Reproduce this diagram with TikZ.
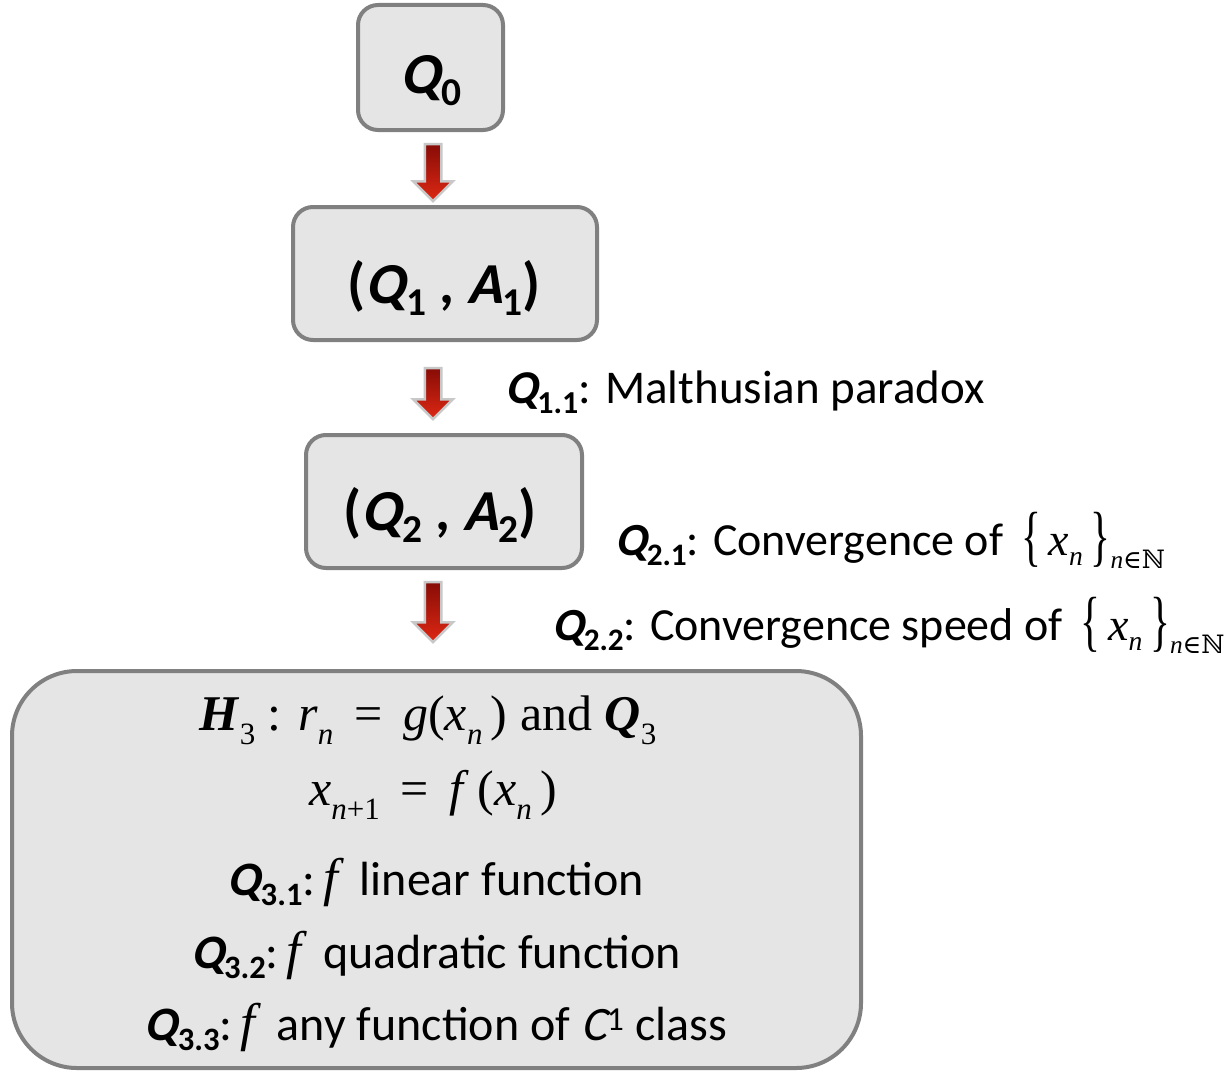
\documentclass[tikz,border=0pt]{standalone}
\usepackage{graphicx}
\usepackage{fontspec}
\setmainfont{Carlito}[ItalicFont={Carlito}, ItalicFeatures={FakeSlant=0.2}, BoldFont={Carlito Bold}, BoldItalicFont={Carlito Bold}, BoldItalicFeatures={FakeSlant=0.2}]
\newfontfamily\tnr{Liberation Serif}
\newfontfamily\dvs{DejaVu Serif}
\usetikzlibrary{shapes.arrows,calc}
\definecolor{boxline}{RGB}{128,128,128}
\definecolor{boxfill}{RGB}{229,229,229}
\definecolor{arrowedge}{RGB}{200,200,200}
\definecolor{redlight}{RGB}{222,40,20}
\definecolor{reddark}{RGB}{135,12,6}
\newcommand\fsz[1]{\fontsize{#1}{#1}\selectfont}
\newcommand\lowsub[2][0.68]{\raisebox{-0.22em}{\scalebox{#1}{#2}}}
\newcommand\msub[1]{\raisebox{-0.28em}{\scalebox{0.62}{#1}}}
\newcommand\Qs[1]{{\bfseries\itshape Q}{\bfseries\lowsub{#1}}}
\newcommand\bigbr[1]{\raisebox{-0.08em}{\scalebox{0.9}[1.45]{#1}}}
\newcommand\seqx{{\tnr\,\bigbr{\{}\,\textit{x}\lowsub[0.6]{\textit{n}}\,\bigbr{\}}\raisebox{-0.3em}{\scalebox{0.55}{\textit{n}{\dvs ∈ℕ}}}}}
\newcommand\tf{{\tnr\itshape\fontsize{53}{53}\selectfont f}}
\begin{document}
\begin{tikzpicture}[x=1pt,y=-1pt,
  stepbox/.style={draw=boxline, line width=4pt, fill=boxfill, rounded corners=20pt, inner sep=0pt},
  redarrow/.style={single arrow, rotate=-90, inner sep=0pt, text height=14pt, text depth=0pt,
    minimum width=37pt, single arrow head extend=11.5pt, single arrow head indent=0pt,
    draw=arrowedge, line width=2.5pt, top color=reddark, bottom color=redlight},
  lbl/.style={anchor=base west, inner sep=0pt},
  txt/.style={anchor=base, inner sep=0pt}]
\fill[white] (0,0) rectangle (1225,1073);
\useasboundingbox (0,0) rectangle (1225,1073);

% boxes
\node[stepbox, minimum width=145pt, minimum height=125pt] (q0) at (430.5,67.5) {};
\node[stepbox, minimum width=304pt, minimum height=133pt] (q1) at (445,273.5) {};
\node[stepbox, minimum width=276pt, minimum height=133pt] (q2) at (444,501.5) {};
\node[stepbox, rounded corners=65pt, minimum width=849pt, minimum height=397pt] (q3) at (436.5,869.5) {};

% box texts
\node[txt] (q0t) at (431,93) {\fsz{58}\bfseries\textit{Q}\lowsub{0}};
\node[txt] (q1t) at (444,303) {\fsz{58}\bfseries (\textit{Q}\lowsub{1} , \textit{A}\lowsub{1})};
\node[txt] (q2t) at (440,530) {\fsz{58}\bfseries (\textit{Q}\lowsub{2} , \textit{A}\lowsub{2})};

% arrows
\node[redarrow, minimum height=57pt] (ar1) at (433,168.5) {};
\node[redarrow, minimum height=51pt] (ar2) at (433,389.5) {};
\node[redarrow, minimum height=60pt] (ar3) at (433,608) {};

% side labels
\node[lbl] (l11) at (505,403) {\fsz{47}\Qs{1.1}: Malthusian paradox};
\node[lbl] (l21) at (615,555) {\fsz{46}\Qs{2.1}: Convergence of \seqx};
\node[lbl] (l22) at (552,640) {\fsz{46}\Qs{2.2}: Convergence speed of \seqx};

% big box lines
\node[txt] (h3) at (428,730) {\fsz{50}\tnr\textbf{\textit{H}}\msub{3} : \textit{r}\msub{\textit{n}}\, = \,\textit{g}(\textit{x}\msub{\textit{n}}\,) and \textbf{\textit{Q}}\msub{3}};
\node[txt] (rec) at (433,805) {\fsz{50}\tnr\textit{x}\msub{\textit{n}+1}\, = \,\textit{f}\,(\textit{x}\msub{\textit{n}}\,)};
\node[txt] (q31) at (436,895) {\fsz{48}\Qs{3.1}:\,\tf\ \ linear function};
\node[txt] (q32) at (436,968) {\fsz{48}\Qs{3.2}:\,\tf\ \ quadratic function};
\node[txt] (q33) at (436,1040) {\fsz{48}\Qs{3.3}:\,\tf\ \ any function of \textit{C}\textsuperscript{1} class};
\end{tikzpicture}
\end{document}
